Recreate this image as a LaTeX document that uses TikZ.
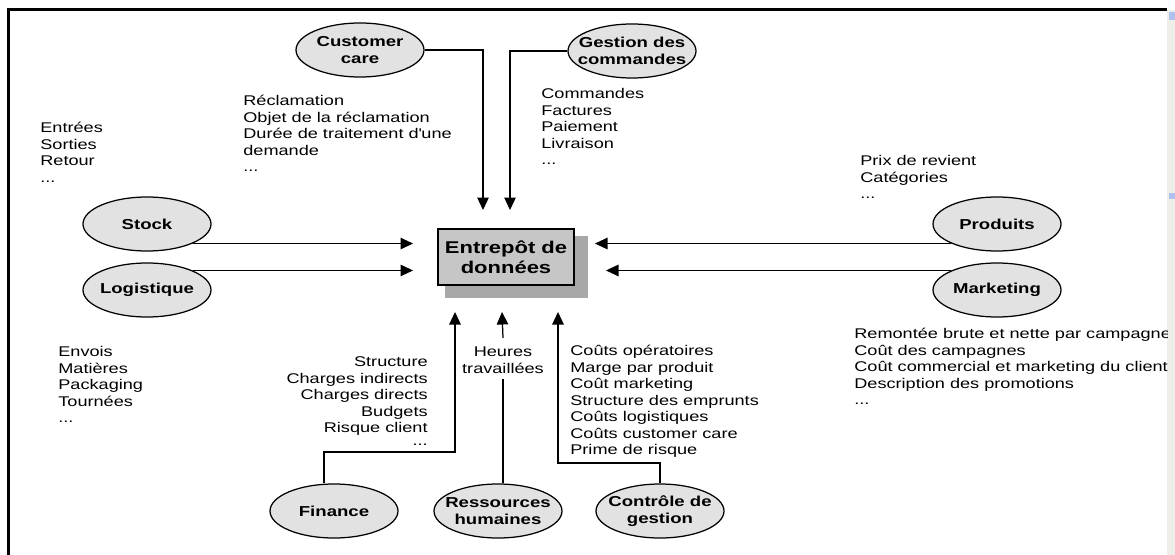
\documentclass[tikz,border=0pt]{standalone}
\usepackage{fontspec}
\setmainfont{Liberation Sans}[FakeStretch=1.29]
\usetikzlibrary{shapes.geometric,arrows.meta,calc,backgrounds}
\definecolor{elfill}{HTML}{E2E2E2}
\definecolor{boxfill}{HTML}{C6C6C6}
\definecolor{shadowgray}{HTML}{A8A8A8}
\definecolor{barbg}{HTML}{EEEDE8}
\definecolor{barblue}{HTML}{AFC2EE}
\newcommand\fstrut{\rule{0pt}{7.5pt}}

\begin{document}
\begin{tikzpicture}[x=0.2mm,y=-0.2mm,
  every node/.style={inner sep=0pt},
  src/.style={ellipse, draw=black, line width=0.25mm, fill=elfill,
    minimum width=25.6mm, minimum height=10.8mm, inner xsep=-4mm,
    align=center, font=\fontsize{8.2}{9.7}\selectfont\bfseries},
  lst/.style={align=left, anchor=north west, font=\fontsize{8}{9.4}\selectfont},
  hub/.style={draw=black, line width=0.35mm, fill=boxfill,
    minimum width=27.2mm, minimum height=11.2mm, align=center,
    font=\fontsize{9.7}{11.4}\selectfont\bfseries},
  flow/.style={line width=0.25mm, -{Triangle[length=2.5mm,width=2.3mm]}},
  plain/.style={line width=0.25mm},
  frame/.style={line width=0.6mm}]

\useasboundingbox (0,0) rectangle (1175,555);

% window frame and scroll bar
\draw[frame] (8,555) -- (8,10) -- (1167,10);
\fill[barbg] (1167,10) rectangle (1175,555);
\fill[barblue] (1169,12) rectangle (1175,20);
\fill[barblue] (1169,193) rectangle (1175,199);

% central warehouse with its shadow
\node[hub] (dw) at (506,257) {Entrepôt de\\données};
\begin{scope}[on background layer]
  \fill[shadowgray] ($(dw.north west)+(8,8)$) rectangle ($(dw.south east)+(13,12)$);
\end{scope}

% sources
\node[src] (cc) at (360,50)  {Customer\\care};
\node[src] (gc) at (632,51)  {Gestion des\\commandes};
\node[src] (st) at (147,224) {Stock};
\node[src] (lg) at (147,290) {Logistique};
\node[src] (pr) at (997,224) {Produits};
\node[src] (mk) at (997,290) {Marketing};
\node[src] (fi) at (334,511) {Finance};
\node[src] (rh) at (498,511) {Ressources\\humaines};
\node[src] (cg) at (660,511) {Contrôle de\\gestion};

% arrow tips and bends
\coordinate (tipL)  at (413,0);
\coordinate (tipRa) at (595,0);
\coordinate (tipRb) at (606,0);
\coordinate (tipT1) at (483,210);
\coordinate (tipT2) at (510,210);
\coordinate (tipB1) at (455,312);
\coordinate (tipB2) at (502,312);
\coordinate (tipB3) at (558,312);
\coordinate (finjog) at (324,452);
\coordinate (cgjog)  at (0,463);

% data lists
\node[lst] (stk) at (40,119)  {\fstrut Entrées\\Sorties\\Retour\\...};
\node[lst] (cct) at (243,92)  {\fstrut Réclamation\\Objet de la réclamation\\Durée de traitement d\textquotesingle une\\demande\\...};
\node[lst] (gct) at (541,85)  {\fstrut Commandes\\Factures\\Paiement\\Livraison\\...};
\node[lst] (prt) at (860,152) {\fstrut Prix de revient\\Catégories\\...};
\node[lst] (lgt) at (58,343)  {\fstrut Envois\\Matières\\Packaging\\Tournées\\...};
\node[lst, anchor=north east, align=right] (fit) at (428,353)
  {\fstrut Structure\\Charges indirects\\Charges directs\\Budgets\\Risque client\\[-2pt]...};
\node[lst] (cgt) at (570,342)
  {\fstrut Coûts opératoires\\Marge par produit\\Coût marketing\\Structure des emprunts\\Coûts logistiques\\Coûts customer care\\Prime de risque};
\node[lst, anchor=north, align=center, inner ysep=1mm] (hrs) at (503,338) {\fstrut Heures\\travaillées};
\begin{scope}
  \clip (0,0) rectangle (1167,555);
  \node[lst] (mkt) at (854,325)
    {\fstrut Remontée brute et nette par campagne\\Coût des campagnes\\Coût commercial et marketing du client\\Description des promotions\\...};
\end{scope}

% connectors
\draw[flow] (cc.east) -| (tipT1);
\draw[flow] (gc.west) -| (tipT2);
\draw[flow] (st.south east) -- (st.south east -| tipL);
\draw[flow] (lg.north east) -- (lg.north east -| tipL);
\draw[flow] (pr.south west) -- (pr.south west -| tipRa);
\draw[flow] (mk.north west) -- (mk.north west -| tipRb);
\draw[flow] (fi.north -| finjog) |- (finjog -| tipB1) -- (tipB1);
\draw[plain] (rh.north -| hrs) -- (hrs.south);
\draw[flow] (hrs.north) -- (tipB2);
\draw[flow] (cg.north) |- (cgjog -| tipB3) -- (tipB3);
\end{tikzpicture}
\end{document}
